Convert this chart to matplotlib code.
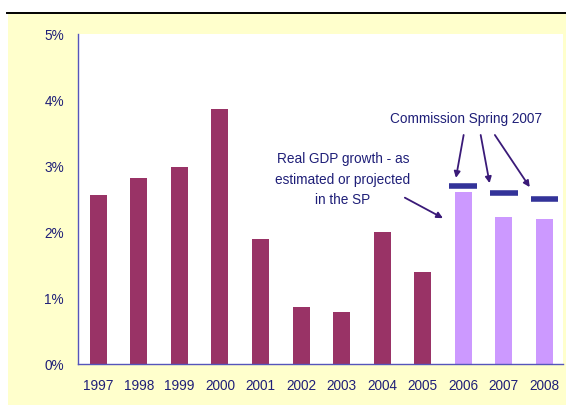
import matplotlib
matplotlib.use("Agg")
import matplotlib.pyplot as plt
from matplotlib.patches import Rectangle
from matplotlib.lines import Line2D
from matplotlib.ticker import PercentFormatter

# Real GDP growth (%), outturn and SP projections
years = ["1997", "1998", "1999", "2000", "2001", "2002",
         "2003", "2004", "2005", "2006", "2007", "2008"]
gdp_growth = [2.56, 2.82, 2.98, 3.86, 1.89, 0.86,
              0.79, 2.00, 1.39, 2.61, 2.23, 2.20]
projected = [False] * 9 + [True] * 3

# Commission Spring 2007 forecast for the projection years
comm_years = ["2006", "2007", "2008"]
comm_growth = [2.70, 2.59, 2.50]

TEXT = "#1f1f78"
ARROW = "#3a1a78"
FS = 9.8
plt.rcParams["font.family"] = ["Liberation Sans", "DejaVu Sans"]

fig = plt.figure(figsize=(5.66, 4.05), dpi=100, facecolor="white")

# pale yellow slide panel with black rule on top
fig.add_artist(Rectangle((8 / 566, 0), 1 - 8 / 566, (405 - 14) / 405,
                         transform=fig.transFigure, facecolor="#ffffcc",
                         edgecolor="none", zorder=0))
fig.add_artist(Line2D([7 / 566, 1], [(405 - 13) / 405] * 2,
                      transform=fig.transFigure, color="black", lw=1.4))

ax = fig.add_axes([78 / 566, 41 / 405, 485 / 566, 330 / 405])
ax.set_facecolor("white")

x = list(range(len(years)))
colors = ["#cc99ff" if p else "#993366" for p in projected]
ax.bar(x, gdp_growth, width=0.42, color=colors, zorder=2)

cx = [years.index(y) for y in comm_years]
ax.hlines(comm_growth, [i - 0.34 for i in cx], [i + 0.34 for i in cx],
          color="#333399", lw=4, zorder=3)

ax.set_xlim(-0.5, 11.46)
ax.set_ylim(0, 5)
ax.set_yticks(range(0, 6))
ax.yaxis.set_major_formatter(PercentFormatter(decimals=0))
ax.set_xticks(x)
ax.set_xticklabels(years)
ax.tick_params(length=0, labelsize=FS, labelcolor=TEXT)
ax.tick_params(axis="y", pad=10)
ax.tick_params(axis="x", pad=11)

for s in ("top", "right"):
    ax.spines[s].set_visible(False)
for s in ("left", "bottom"):
    ax.spines[s].set_color("#5555bb")
    ax.spines[s].set_linewidth(1)

# annotations
ax.text(9.06, 3.71, "Commission Spring 2007", ha="center", va="center",
        fontsize=FS, color=TEXT)
arrow = dict(arrowstyle="-|>", color=ARROW, lw=1.3, mutation_scale=9,
             shrinkA=0, shrinkB=0)
starts = [(9.01, 3.47), (9.43, 3.47), (9.78, 3.47)]
ends = [(8.82, 2.82), (9.65, 2.74), (10.64, 2.68)]
for s, e in zip(starts, ends):
    ax.annotate("", xy=e, xytext=s, arrowprops=arrow)

ax.text(6.03, 2.79, "Real GDP growth - as\nestimated or projected\nin the SP",
        ha="center", va="center", fontsize=FS, color=TEXT, linespacing=1.6)
ax.annotate("", xy=(8.5, 2.21), xytext=(7.56, 2.52), arrowprops=arrow)

fig.savefig("out.png", dpi=100, facecolor=fig.get_facecolor())
